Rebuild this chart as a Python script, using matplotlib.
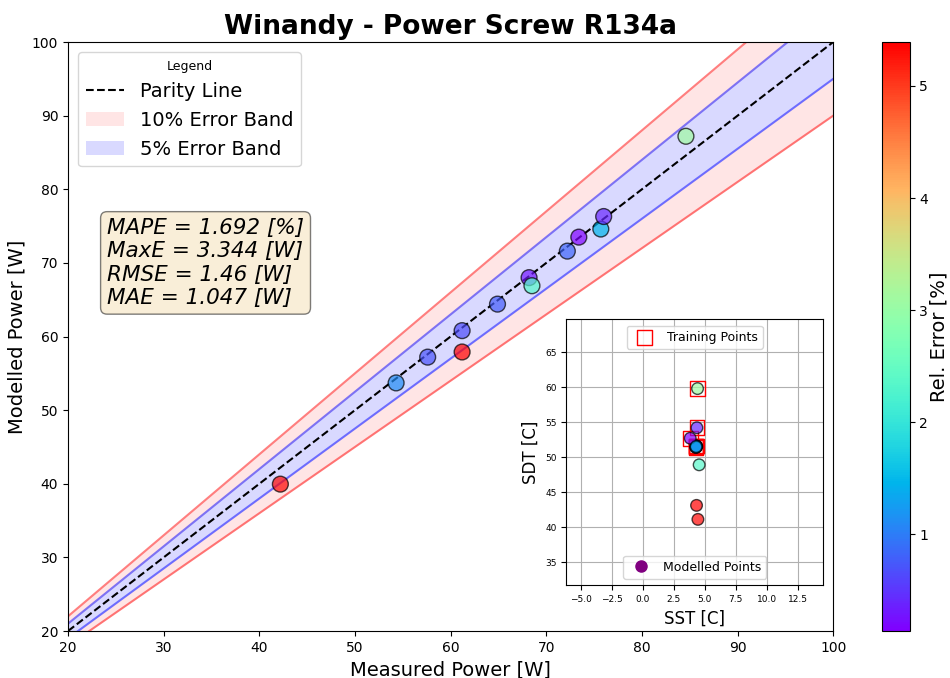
import numpy as np
import matplotlib
matplotlib.use("Agg")
import matplotlib.pyplot as plt

# data
measured = np.array([42.2, 54.3, 57.6, 61.2, 61.2, 64.9, 68.2, 68.5, 72.2, 73.4, 75.7, 76.0, 84.6])
modelled = np.array([39.95, 53.7, 57.2, 60.8, 57.9, 64.4, 68.0, 66.9, 71.6, 73.5, 74.6, 76.3, 87.2])
sst = np.array([4.45, 4.30, 4.33, 4.28, 4.34, 4.36, 4.32, 4.55, 4.30, 3.83, 4.31, 4.37, 4.42])
sdt = np.array([41.1, 51.5, 51.6, 51.4, 43.1, 51.5, 51.6, 48.9, 51.4, 52.7, 51.5, 54.2, 59.8])
train_idx = [1, 3, 6, 9, 10, 11, 12]

metrics = "MAPE = 1.692 [%]\nMaxE = 3.344 [W]\nRMSE = 1.46 [W]\nMAE = 1.047 [W]"

rel_err = np.abs(modelled - measured) / measured * 100

fig = plt.figure(figsize=(9.5, 6.78), dpi=100)
ax = fig.add_axes([0.0716, 0.0693, 0.8055, 0.8687])
cax = fig.add_axes([0.928, 0.0693, 0.0295, 0.8687])

x = np.linspace(20, 100, 200)
ax.plot(x, x, 'k--', label='Parity Line')
ax.fill_between(x, 0.9 * x, 0.95 * x, color='red', alpha=0.1, linewidth=0, label='10% Error Band')
ax.fill_between(x, 1.05 * x, 1.1 * x, color='red', alpha=0.1, linewidth=0)
ax.plot(x, 0.9 * x, color='red', alpha=0.5)
ax.plot(x, 1.1 * x, color='red', alpha=0.5)
ax.fill_between(x, 0.95 * x, 1.05 * x, color='blue', alpha=0.15, linewidth=0, label='5% Error Band')
ax.plot(x, 0.95 * x, color='blue', alpha=0.5)
ax.plot(x, 1.05 * x, color='blue', alpha=0.5)

sc = ax.scatter(measured, modelled, c=rel_err, cmap='rainbow', s=130, alpha=0.7,
                edgecolors='k', zorder=5)
ax.set_xlim(20, 100)
ax.set_ylim(20, 100)
ax.set_xlabel('Measured Power [W]', fontsize=14)
ax.set_ylabel('Modelled Power [W]', fontsize=14)
ax.set_title('Winandy - Power Screw R134a', fontsize=19, fontweight='bold')
ax.legend(loc='upper left', title='Legend', fontsize=14, title_fontsize=9)
ax.text(0.051, 0.625, metrics, transform=ax.transAxes, fontsize=15.5, style='italic',
        va='center', ha='left',
        bbox=dict(boxstyle='round', facecolor='wheat', alpha=0.5))

cb = fig.colorbar(sc, cax=cax)
cb.solids.set_alpha(1)
cb.set_label('Rel. Error [%]', fontsize=14, labelpad=1)

# inset
ins = fig.add_axes([0.596, 0.137, 0.2705, 0.392])
ins.grid(True)
ins.set_axisbelow(True)
tr = ins.scatter(sst[train_idx], sdt[train_idx], marker='s', s=110, facecolors='none',
                 edgecolors='red', label='Training Points')
mp = ins.scatter(sst, sdt, c=rel_err, cmap='rainbow', s=70, alpha=0.7, edgecolors='k',
                 label='Modelled Points', zorder=4)
ins.set_xlim(sst.min() - 10, sst.max() + 10)
ins.set_ylim(sdt.min() - 9.4, sdt.max() + 9.9)
ins.set_xlabel('SST [C]', fontsize=12)
ins.set_ylabel('SDT [C]', fontsize=12)
ins.tick_params(labelsize=6.5)
leg1 = ins.legend(handles=[tr], loc='upper center', fontsize=9)
ins.add_artist(leg1)
mh = plt.Line2D([], [], marker='o', color='purple', linestyle='none', markersize=8)
ins.legend(handles=[mh], labels=['Modelled Points'], loc='lower center', fontsize=9)

fig.savefig('out.png', dpi=100)
